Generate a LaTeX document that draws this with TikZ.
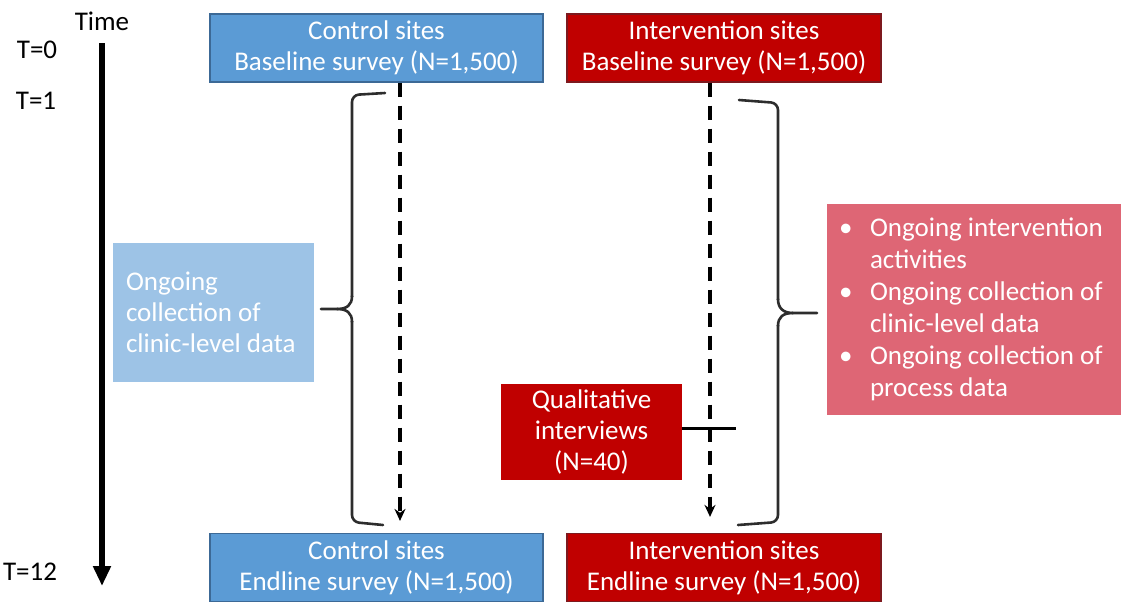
\documentclass[tikz,border=0pt]{standalone}
\usepackage{fontspec}
\setmainfont{Carlito}
\usepackage{tikz}
\usetikzlibrary{arrows.meta}
\definecolor{ctrlblue}{RGB}{91,155,213}
\definecolor{ctrledge}{RGB}{60,105,150}
\definecolor{intred}{RGB}{192,0,0}
\definecolor{intedge}{RGB}{125,25,30}
\definecolor{paleblue}{RGB}{157,195,230}
\definecolor{rose}{RGB}{222,102,117}
\definecolor{bracegray}{RGB}{45,45,45}

\tikzset{
  bigfont/.style={font=\fontsize{27}{31}\selectfont},
  sitebox/.style={draw, line width=1.2pt, text=white, minimum height=68pt,
    inner sep=0pt, align=center, bigfont},
  ctrlsite/.style={sitebox, fill=ctrlblue, draw=ctrledge, minimum width=333pt},
  intsite/.style={sitebox, fill=intred, draw=intedge, minimum width=314pt},
  notebox/.style={text=white, inner sep=0pt, align=flush left, bigfont},
  timelabel/.style={bigfont, inner sep=0pt},
  timeline/.style={line width=5.5pt, -{Triangle[length=20pt,width=17pt]}},
  followup/.style={line width=3.8pt, dash pattern=on 14pt off 9pt,
    -{Stealth[length=12pt,width=11pt]}},
  bracket/.style={line width=2.6pt, draw=bracegray, line cap=round, line join=round}
}

\newcommand{\bulletrow}{\makebox[31pt][l]{\textbullet}}

\begin{document}
\begin{tikzpicture}[x=1pt,y=-1pt]
      \useasboundingbox (0,0) rectangle (1121,605);
      % time axis
      \node[timelabel] (time) at (102,21) {Time};
      \node[timelabel] (t0) at (37,50) {T=0};
      \node[timelabel] (t1) at (36,101) {T=1};
      \node[timelabel] (t12) at (30,572) {T=12};
      \coordinate (tstart) at (102,43);
      \coordinate (tend) at (102,586);
      \draw[timeline] (tstart) -- (tend);
      % surveys
      \node[ctrlsite] (ctrlbase) at (376.5,48) {Control sites\\Baseline survey (N=1,500)};
      \node[intsite] (intbase) at (724,48) {Intervention sites\\Baseline survey (N=1,500)};
      \node[ctrlsite] (ctrlend) at (376.5,567.5) {Control sites\\Endline survey (N=1,500)};
      \node[intsite] (intend) at (724,567.5) {Intervention sites\\Endline survey (N=1,500)};
      \draw[followup, shorten >=12pt] ([xshift=23.5pt]ctrlbase.south) -- ([xshift=23.5pt]ctrlend.north);
      \draw[followup, shorten >=16pt] ([xshift=-14pt]intbase.south) -- ([xshift=-14pt]intend.north);
      % ongoing activities
      \node[notebox, fill=paleblue, text width=175pt, minimum width=201pt,
        minimum height=139pt] (clinic) at (213.5,312.5)
        {Ongoing\\collection of\\clinic-level data};
      \node[notebox, fill=rose, text width=270pt, minimum width=294pt,
        minimum height=211pt, font=\fontsize{27}{32}\selectfont] (process) at (974,309.5)
        {\bulletrow Ongoing intervention\\
         \hspace*{31pt}activities\\
         \bulletrow Ongoing collection of\\
         \hspace*{31pt}clinic-level data\\
         \bulletrow Ongoing collection of\\
         \hspace*{31pt}process data};
      \node[notebox, fill=intred, align=center, minimum width=181pt,
        minimum height=96pt] (qual) at (591.5,432)
        {Qualitative\\interviews\\(N=40)};
      \coordinate (qualend) at (736,428);
      \draw[line width=3pt] (qual.east |- qualend) -- (qualend);
      % left bracket
      \draw[bracket, rounded corners=7pt] (385,93) -- (352,95) -- (352,297);
      \draw[bracket] (352,296) .. controls (352,305) and (347,309) .. (337,309) -- (321,309);
      \draw[bracket] (337,309) .. controls (347,309) and (352,313) .. (352,322);
      \draw[bracket, rounded corners=7pt] (352,321) -- (352,522) -- (383,525);
      % right bracket
      \draw[bracket, rounded corners=7pt] (739,100) -- (778,103) -- (778,300);
      \draw[bracket] (778,299) .. controls (778,308) and (783,313) .. (793,313) -- (817,313);
      \draw[bracket] (793,313) .. controls (783,313) and (778,317) .. (778,326);
      \draw[bracket, rounded corners=7pt] (778,325) -- (778,522) -- (738,525);
    \end{tikzpicture}
\end{document}
